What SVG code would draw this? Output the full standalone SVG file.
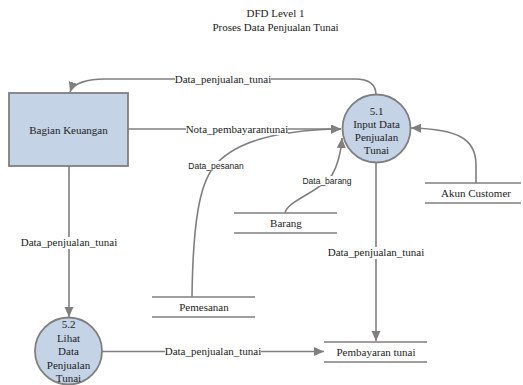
<svg xmlns="http://www.w3.org/2000/svg" width="523" height="385" viewBox="0 0 523 385">
  <style>
    .title { font-family: "Liberation Serif", "Times New Roman", serif; font-size: 11px; fill: #222; text-anchor: middle; }
    .txt { font-family: "Liberation Serif", "Times New Roman", serif; font-size: 11px; fill: #222; text-anchor: middle; }
    .slbl { font-family: "Liberation Sans", Arial, sans-serif; font-size: 8.5px; fill: #222; text-anchor: middle; }
    .bg { fill: #fff; }
    .node { fill: #c4d3e6; stroke: #7f7f7f; stroke-width: 1.8; }
    .flow { fill: none; stroke: #7f7f7f; stroke-width: 1.6; }
    .store { fill: none; stroke: #7f7f7f; stroke-width: 1.6; }
  </style>
  <defs>
    <marker id="arrow" markerUnits="userSpaceOnUse" markerWidth="11" markerHeight="10" refX="10" refY="4.5" orient="auto">
      <path d="M0,0 L10,4.5 L0,9 z" fill="#7f7f7f"/>
    </marker>
  </defs>

  <rect width="523" height="385" fill="#fff"/>

  <!-- title -->
  <text class="title" x="275.5" y="17">DFD Level 1</text>
  <text class="title" x="275.5" y="31">Proses Data Penjualan Tunai</text>

  <!-- data flows -->
  <g id="connectors">
    <path class="flow" d="M376,95 C376,85 370,79 355,79 L105,79 C88,79 73,83 70,92" marker-end="url(#arrow)"/>
    <path class="flow" d="M128,129 L341,129" marker-end="url(#arrow)"/>
    <path class="flow" d="M192,297 C193,220 200,185 213,168 C230,145 270,130 341,129" marker-end="url(#arrow)"/>
    <path class="flow" d="M285,213 C288,200 320,192 332,175 C339,163 341,152 342,138" marker-end="url(#arrow)"/>
    <path class="flow" d="M476,183 L476,165 C476,140 460,129 411,128" marker-end="url(#arrow)"/>
    <path class="flow" d="M376,163 L376,341" marker-end="url(#arrow)"/>
    <path class="flow" d="M69,166 L69,317" marker-end="url(#arrow)"/>
    <path class="flow" d="M102,351.5 L324,351.5" marker-end="url(#arrow)"/>

    <!-- label backgrounds break the lines under the text -->
    <rect class="bg" x="175" y="74" width="96" height="11"/>
    <rect class="bg" x="186" y="124" width="102" height="11"/>
    <rect class="bg" x="191" y="161" width="50" height="10"/>
    <rect class="bg" x="305" y="176" width="45" height="10"/>
    <rect class="bg" x="21" y="237" width="96" height="12"/>
    <rect class="bg" x="328" y="247" width="96" height="12"/>
    <rect class="bg" x="165" y="346" width="96" height="11"/>

    <text class="txt" x="223" y="83">Data_penjualan_tunai</text>
    <text class="txt" x="237" y="133">Nota_pembayarantunai</text>
    <text class="slbl" x="216" y="169">Data_pesanan</text>
    <text class="slbl" x="327" y="184">Data_barang</text>
    <text class="txt" x="69" y="246">Data_penjualan_tunai</text>
    <text class="txt" x="376" y="256">Data_penjualan_tunai</text>
    <text class="txt" x="213" y="355">Data_penjualan_tunai</text>
  </g>

  <!-- external entity -->
  <g id="bagian-keuangan">
    <rect class="node" x="9" y="93" width="119" height="73"/>
    <text class="txt" x="68.5" y="133.5">Bagian Keuangan</text>
  </g>

  <!-- processes -->
  <g id="proses-5-1">
    <circle class="node" cx="376.5" cy="128.5" r="34"/>
    <text class="txt" x="376.5" y="115">5.1</text>
    <text class="txt" x="376.5" y="128">Input Data</text>
    <text class="txt" x="376.5" y="141">Penjualan</text>
    <text class="txt" x="376.5" y="154">Tunai</text>
  </g>

  <g id="proses-5-2">
    <circle class="node" cx="68.5" cy="351" r="33.5"/>
    <text class="txt" x="68.5" y="328">5.2</text>
    <text class="txt" x="68.5" y="341.5">Lihat</text>
    <text class="txt" x="68.5" y="355">Data</text>
    <text class="txt" x="68.5" y="368.5">Penjualan</text>
    <text class="txt" x="68.5" y="382">Tunai</text>
  </g>

  <!-- data stores -->
  <g id="akun-customer">
    <path class="store" d="M425,183 L521,183 M425,203 L521,203"/>
    <text class="txt" x="476" y="197">Akun Customer</text>
  </g>

  <g id="barang">
    <path class="store" d="M234,213 L337,213 M234,233 L337,233"/>
    <text class="txt" x="286" y="227">Barang</text>
  </g>

  <g id="pemesanan">
    <path class="store" d="M152,297 L255,297 M152,317 L255,317"/>
    <text class="txt" x="204" y="311">Pemesanan</text>
  </g>

  <g id="pembayaran-tunai">
    <path class="store" d="M324,342 L427,342 M324,362 L427,362"/>
    <text class="txt" x="376" y="356">Pembayaran tunai</text>
  </g>
</svg>
